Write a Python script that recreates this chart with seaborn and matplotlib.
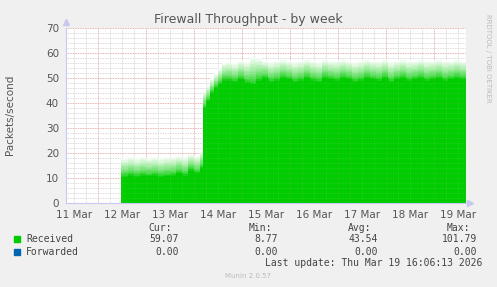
import numpy as np
import matplotlib
matplotlib.use("Agg")
import matplotlib.pyplot as plt
import seaborn as sns
import pandas as pd

# ---------------- data (hours since 11 Mar 00:00) ----------------
hours = [35.6, 39, 42, 45, 48, 51, 54, 57, 60, 63, 66, 69, 72, 75,
         76.6, 78, 80, 82, 84, 86, 88, 91, 94, 97, 100, 103, 106, 109,
         112, 115, 118, 121, 124, 127, 130, 133, 136, 139, 142, 145, 148,
         151, 154, 157, 160, 163, 166, 169, 172, 175, 178, 181, 184, 187,
         190, 193, 196, 199, 202, 205, 208.1]
recv_low = [10.5, 11.0, 10.5, 11.0, 10.8, 11.0, 10.5, 10.8, 11.0, 12.0, 11.0, 13.0, 12.0, 14.0,
            38.0, 41.0, 44.0, 46.0, 47.5, 49.0, 49.0, 48.5, 49.5, 48.0, 47.5, 49.0, 50.0, 48.5,
            49.0, 50.0, 49.5, 48.5, 49.0, 50.0, 49.0, 48.5, 50.0, 49.5, 49.0, 50.0, 49.5,
            48.5, 49.0, 50.0, 49.5, 49.0, 50.0, 48.5, 49.5, 50.0, 49.0, 49.5, 50.0, 49.0,
            49.5, 50.0, 49.0, 49.5, 50.0, 49.5, 49.5]
recv_high = [18.0, 18.5, 18.0, 18.5, 18.2, 18.5, 18.0, 18.5, 18.5, 19.0, 18.5, 19.5, 19.0, 21.0,
             45.0, 47.0, 50.0, 52.0, 54.0, 56.0, 56.5, 56.0, 57.0, 56.5, 58.5, 58.0, 57.0, 56.5,
             57.0, 57.5, 57.0, 56.5, 57.0, 57.5, 57.0, 56.5, 57.5, 57.0, 57.0, 57.5, 57.0,
             56.5, 57.0, 57.5, 57.0, 57.0, 57.5, 56.5, 57.0, 57.5, 57.0, 57.0, 57.5, 57.0,
             57.0, 57.5, 57.0, 57.0, 57.5, 57.0, 57.0]

day_labels = ["11 Mar", "12 Mar", "13 Mar", "14 Mar", "15 Mar",
              "16 Mar", "17 Mar", "18 Mar", "19 Mar"]
y_ticks = [0, 10, 20, 30, 40, 50, 60, 70]

legend_names = ["Received", "Forwarded"]
legend_colors = ["#00CC00", "#0066B3"]
cur_vals = ["59.07", "0.00"]
min_vals = ["8.77", "0.00"]
avg_vals = ["43.54", "0.00"]
max_vals = ["101.79", "0.00"]

x_start, x_end = 8.1, 208.1

# ---------------- figure ----------------
sns.set_theme(style="white")
plt.rcParams['font.family'] = ['DejaVu Sans']

W, H = 497, 287
fig = plt.figure(figsize=(W / 100, H / 100), dpi=100)
fig.patch.set_facecolor("#F0F0F0")
ax = fig.add_axes([66 / W, 84 / H, 400 / W, 175 / H])
ax.set_facecolor("white")

df = pd.DataFrame({"h": hours, "low": recv_low, "high": recv_high})
x = np.array(hours)
lo = np.array(recv_low)
hi = np.array(recv_high)

green = np.array(matplotlib.colors.to_rgb("#00CC00"))
white = np.array([1.0, 1.0, 1.0])

ax.fill_between(x, 0, lo, step="post", color="#00CC00", lw=0, zorder=2)
N = 16
for k in range(N):
    t0, t1 = k / N, (k + 1) / N
    tm = (t0 + t1) / 2
    f = tm ** 0.7
    c = green * (1 - f) + white * f
    ax.fill_between(x, lo + (hi - lo) * t0, lo + (hi - lo) * t1, step="post",
                    color=c, lw=0, zorder=2)
sns.lineplot(data=df, x="h", y="low", drawstyle="steps-post", color="#00CC00",
             lw=0.5, ax=ax, zorder=2)

ax.set_xlim(x_start, x_end)
ax.set_ylim(0, 70)

# grid: under the area, plus a faint pass over it
minor_c = "#d4d4d4"
major_c = "#e4a0a0"
for z, a in [(1, 1.0), (3, 0.18)]:
    for yv in np.arange(2, 70, 2):
        if yv % 10:
            ax.axhline(yv, color=minor_c, lw=0.6, ls=(0, (1, 1)), zorder=z, alpha=a)
    for xv in np.arange(12, x_end, 6):
        if xv % 24:
            ax.axvline(xv, color=minor_c, lw=0.6, ls=(0, (1, 1)), zorder=z, alpha=a)
    for yv in y_ticks[1:]:
        ax.axhline(yv, color=major_c, lw=0.6, ls=(0, (1, 1)), zorder=z, alpha=a)
    for xv in np.arange(24, x_end, 24):
        ax.axvline(xv, color=major_c, lw=0.6, ls=(0, (1, 1)), zorder=z, alpha=a)

ax.set_xticks([12 + 24 * i for i in range(len(day_labels))])
ax.set_xticklabels(day_labels)
ax.set_yticks(y_ticks)
ax.tick_params(axis="both", length=0, labelsize=7.5, colors="#555555")
ax.tick_params(axis="x", pad=5)
ax.tick_params(axis="y", pad=5)
ax.set_xlabel("")
ax.set_ylabel("")

for s in ["top", "right"]:
    ax.spines[s].set_visible(False)
for s in ["left", "bottom"]:
    ax.spines[s].set_color("#c8c8f0")
    ax.spines[s].set_linewidth(0.8)
    ax.spines[s].set_zorder(4)
ax.plot([x_start], [72.3], marker="^", ms=4, color="#c8c8f0", clip_on=False, zorder=5)
ax.plot([x_end + 2.2], [0], marker=">", ms=4, color="#c8c8f0", clip_on=False, zorder=5)

# texts
fig.text(248 / W, 1 - 19 / H, "Firewall Throughput - by week", ha="center", va="center",
         fontsize=9, color="#555555")
fig.text(10 / W, 1 - 115 / H, "Packets/second", rotation=90, ha="center", va="center",
         fontsize=7.5, color="#555555")
fig.text(488 / W, 1 - 58 / H, "RRDTOOL / TOBI OETIKER", rotation=270, ha="center",
         va="center", fontsize=5, color="#bbbbbb")

mono = "DejaVu Sans Mono"
fs = 7
tc = "#444444"
header_y = 1 - 228 / H
for txt, xe in [("Cur:", 172), ("Min:", 272), ("Avg:", 371), ("Max:", 470)]:
    fig.text(xe / W, header_y, txt, ha="right", va="center", family=mono, fontsize=fs, color=tc)
row_y = [239, 252]
for i, name in enumerate(legend_names):
    yy = 1 - row_y[i] / H
    fig.patches.append(matplotlib.patches.Rectangle((14 / W, yy - 3 / H), 6 / W, 6 / H,
                                                    transform=fig.transFigure,
                                                    color=legend_colors[i]))
    fig.text(26 / W, yy, name, ha="left", va="center", family=mono, fontsize=fs, color=tc)
    for vals, xe in [(cur_vals, 179), (min_vals, 278), (avg_vals, 378), (max_vals, 477)]:
        fig.text(xe / W, yy, vals[i], ha="right", va="center", family=mono, fontsize=fs, color=tc)
fig.text(482 / W, 1 - 263 / H, "Last update: Thu Mar 19 16:06:13 2026", ha="right",
         va="center", family=mono, fontsize=fs, color=tc)
fig.text(248 / W, 1 - 276 / H, "Munin 2.0.57", ha="center", va="center",
         fontsize=5, color="#bbbbbb")

fig.savefig("out.png", dpi=100, facecolor=fig.get_facecolor())
